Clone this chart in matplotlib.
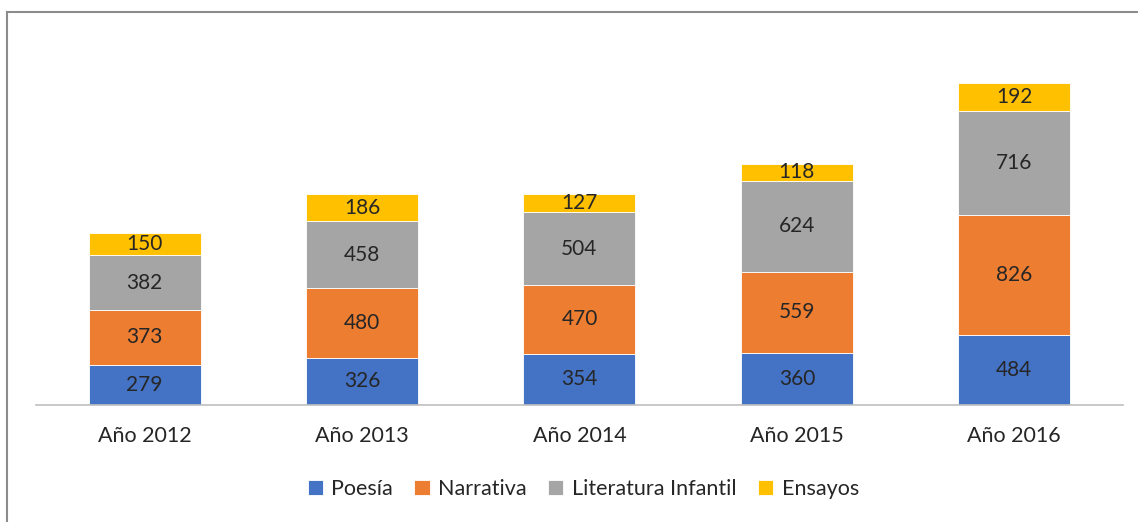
import numpy as np
import matplotlib.pyplot as plt
from matplotlib.lines import Line2D

# Data
years = ['Año 2012', 'Año 2013', 'Año 2014', 'Año 2015', 'Año 2016']
series_names = ['Poesía', 'Narrativa', 'Literatura Infantil', 'Ensayos']
poesia = [279, 326, 354, 360, 484]
narrativa = [373, 480, 470, 559, 826]
infantil = [382, 458, 504, 624, 716]
ensayos = [150, 186, 127, 118, 192]
colors = ['#4472C4', '#ED7D31', '#A5A5A5', '#FFC000']

plt.rcParams['font.family'] = ['Lato', 'DejaVu Sans']
text_color = '#262626'

fig = plt.figure(figsize=(11.38, 5.22), dpi=100)
ax = fig.add_axes([0.0316, 0.2241, 0.9552, 0.6954])

x = np.arange(len(years))
bottom = np.zeros(len(years))
for name, vals, col in zip(series_names, [poesia, narrativa, infantil, ensayos], colors):
    vals = np.array(vals)
    ax.bar(x, vals, width=0.515, bottom=bottom, color=col, label=name,
           edgecolor='white', linewidth=0.6)
    for xi, b, v in zip(x, bottom, vals):
        ax.text(xi, b + v / 2, str(v), ha='center', va='center',
                fontsize=15, color=text_color)
    bottom += vals

ax.set_xlim(-0.5, len(years) - 0.5)
ax.set_ylim(0, 2500)
ax.set_xticks(x)
ax.set_xticklabels(years, fontsize=15.5, color=text_color)
ax.tick_params(axis='x', length=0, pad=15)
ax.set_yticks([])
for side in ['top', 'right', 'left']:
    ax.spines[side].set_visible(False)
ax.spines['bottom'].set_color('#BFBFBF')
ax.spines['bottom'].set_linewidth(1.2)

fig.legend(loc='center', bbox_to_anchor=(0.5125, 0.063), ncol=4, frameon=False,
           fontsize=15.5, handlelength=0.7, handleheight=0.7, handletextpad=0.4,
           columnspacing=1.0, labelcolor=text_color)

# outer frame (top and left visible)
fig.add_artist(Line2D([7 / 1138, 1.0], [1 - 12 / 522, 1 - 12 / 522],
                      transform=fig.transFigure, color='#8C8C8C', linewidth=1.5))
fig.add_artist(Line2D([7 / 1138, 7 / 1138], [0.0, 1 - 12 / 522],
                      transform=fig.transFigure, color='#8C8C8C', linewidth=1.5))

fig.savefig('out.png', dpi=100)
